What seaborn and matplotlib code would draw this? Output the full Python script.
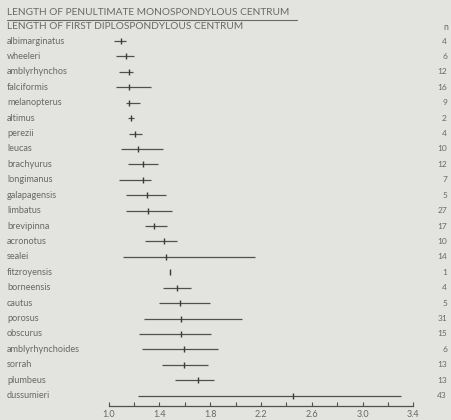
import matplotlib
matplotlib.use("Agg")
import matplotlib.pyplot as plt
import seaborn as sns
import pandas as pd

species = [
    "albimarginatus", "wheeleri", "amblyrhynchos", "falciformis", "melanopterus",
    "altimus", "perezii", "leucas", "brachyurus", "longimanus", "galapagensis",
    "limbatus", "brevipinna", "acronotus", "sealei", "fitzroyensis", "borneensis",
    "cautus", "porosus", "obscurus", "amblyrhynchoides", "sorrah", "plumbeus",
    "dussumieri",
]
ratio_min = [1.04, 1.06, 1.08, 1.06, 1.14, 1.15, 1.16, 1.10, 1.15, 1.08, 1.14,
             1.14, 1.29, 1.29, 1.11, 1.48, 1.43, 1.40, 1.28, 1.24, 1.26, 1.42,
             1.52, 1.23]
ratio_mean = [1.10, 1.14, 1.16, 1.16, 1.16, 1.18, 1.21, 1.23, 1.27, 1.27, 1.30,
              1.31, 1.36, 1.44, 1.45, 1.48, 1.54, 1.56, 1.57, 1.57, 1.59, 1.59,
              1.70, 2.45]
ratio_max = [1.14, 1.20, 1.19, 1.33, 1.25, 1.20, 1.26, 1.43, 1.39, 1.33, 1.45,
             1.50, 1.46, 1.54, 2.15, 1.48, 1.65, 1.80, 2.05, 1.81, 1.86, 1.78,
             1.83, 3.30]
sample_n = [4, 6, 12, 16, 9, 2, 4, 10, 12, 7, 5, 27, 17, 10, 14, 1, 4, 5, 31,
            15, 6, 13, 13, 43]
tick_values = [1.0, 1.4, 1.8, 2.2, 2.6, 3.0, 3.4]

df = pd.DataFrame({
    "species": species,
    "lo": ratio_min,
    "mean": ratio_mean,
    "hi": ratio_max,
    "n": sample_n,
})
df["row"] = range(len(df))

bg = "#e3e3df"
ink = "#505050"
txt = "#686868"

sns.set_theme(style="white")
plt.rcParams["font.family"] = ["Lato", "DejaVu Sans"]

W, H = 451, 420
fig = plt.figure(figsize=(W / 100, H / 100), dpi=100, facecolor=bg)
ax_left, ax_right = 108.6, 413.4
ax_top, ax_bot = 33.0, 406.0
ax = fig.add_axes([ax_left / W, 1 - ax_bot / H, (ax_right - ax_left) / W, (ax_bot - ax_top) / H])
ax.set_facecolor(bg)

# range of each species
ax.hlines(df["row"], df["lo"], df["hi"], color=ink, lw=0.9, zorder=2)
# mean marks
sns.scatterplot(data=df, x="mean", y="row", marker="|", s=18, linewidth=1.0,
                color="#3a3a3a", ax=ax, zorder=3, legend=False)

ax.set_xlim(1.0, 3.4)
ax.set_ylim(23.67, -0.52)
ax.set_xlabel("")
ax.set_ylabel("")
ax.set_yticks([])

for s in ["top", "right", "left"]:
    ax.spines[s].set_visible(False)
ax.spines["bottom"].set_color(ink)
ax.spines["bottom"].set_linewidth(0.9)
ax.spines["bottom"].set_bounds(1.0, 3.4)

minor = [round(1.0 + 0.2 * i, 1) for i in range(13)]
ax.set_xticks(minor, minor=True)
ax.set_xticks(tick_values)
ax.set_xticklabels([f"{v:.1f}" for v in tick_values], fontsize=6.5, color=txt)
ax.tick_params(axis="x", which="both", direction="in", length=3, width=0.8,
               color=ink, pad=3, bottom=True)

# species names and sample sizes
for r, name, n in zip(df["row"], df["species"], df["n"]):
    y = 41 + r * 15.42
    fig.text(7 / W, 1 - y / H, name, fontsize=6.6, color=txt, ha="left", va="center")
    fig.text(447 / W, 1 - y / H, str(n), fontsize=6.0, color=txt, ha="right", va="center")

fig.text(448 / W, 1 - 27 / H, "n", fontsize=6.3, color=txt, ha="right", va="center")

# ratio heading
fig.text(7 / W, 1 - 12.5 / H, "LENGTH OF PENULTIMATE MONOSPONDYLOUS CENTRUM",
         fontsize=7.3, color=txt, ha="left", va="center")
fig.add_artist(plt.Line2D([7 / W, 297 / W], [1 - 19.5 / H, 1 - 19.5 / H],
                          color=txt, lw=0.8, transform=fig.transFigure))
fig.text(7 / W, 1 - 26.5 / H, "LENGTH OF FIRST DIPLOSPONDYLOUS CENTRUM",
         fontsize=7.3, color=txt, ha="left", va="center")

fig.savefig("out.png", dpi=100, facecolor=bg)
